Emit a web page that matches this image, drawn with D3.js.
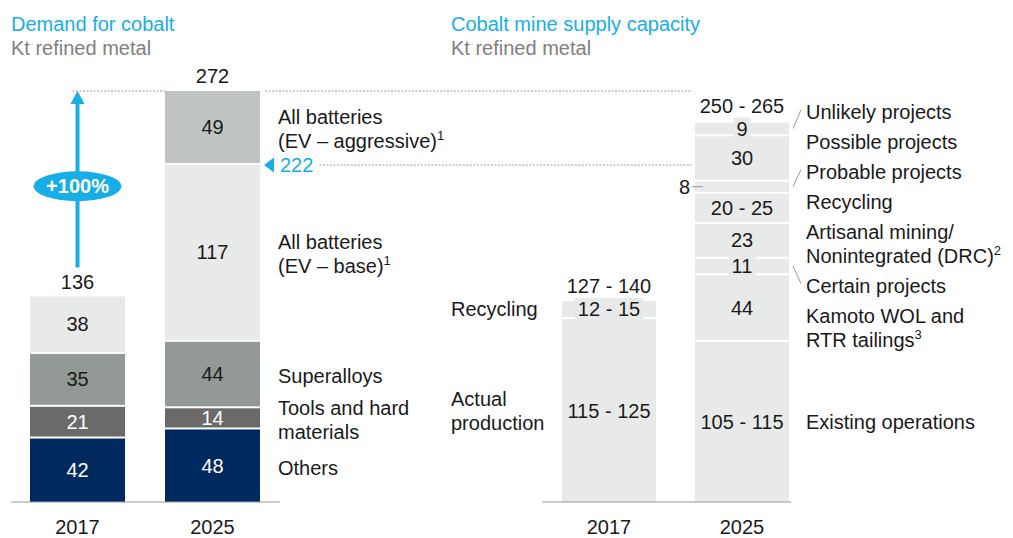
<!DOCTYPE html>
<html>
<head>
<meta charset="utf-8">
<script src="https://cdn.jsdelivr.net/npm/d3@7"></script>
<style>
  body { margin: 0; background: #fff; }
  text { font-family: "Liberation Sans", Arial, sans-serif; font-size: 20px; fill: #1a1a1a; }
</style>
</head>
<body>
<svg id="chart" width="1013" height="538"></svg>
<script>
// ---- data ----
const years = ["2017", "2025"];

// demand, bottom to top
const demandCats = ["Others", "Tools and hard\nmaterials", "Superalloys", "All batteries\n(EV – base)", "All batteries\n(EV – aggressive)"];
const demandNotes = ["", "", "", "1", "1"];
const demand2017 = [42, 21, 35, 38, 0];
const demand2025 = [48, 14, 44, 117, 49];
const demandTotals = ["136", "272"];
const demandBase = 222;
const demandGrowth = "+100%";

// supply capacity, bottom to top
const supplyCats2017 = ["Actual\nproduction", "Recycling"];
const supply2017 = [121, 12];
const supplyLabels2017 = ["115 - 125", "12 - 15"];
const supplyTotal2017 = "127 - 140";

const supplyCats2025 = ["Existing operations", "Kamoto WOL and\nRTR tailings", "Certain projects", "Artisanal mining/\nNonintegrated (DRC)", "Recycling", "Probable projects", "Possible projects", "Unlikely projects"];
const supplyNotes2025 = ["", "3", "", "2", "", "", "", ""];
const supply2025 = [106, 44, 11, 23, 20, 8, 30, 9];
const supplyLabels2025 = ["105 - 115", "44", "11", "23", "20 - 25", "8", "30", "9"];
const supplyTotal2025 = "250 - 265";

// ---- styles ----
const BLUE = "#17aee8";
const demandFills = ["#002960", "#6a6a6a", "#939994", "#e8e9e9", "#bfc4c2"];
const demandInk = ["#fff", "#fff", "#1a1a1a", "#1a1a1a", "#1a1a1a"];
const supplyFill = "#e8e9e9";
const GAP = 2;

const svg = d3.select("#chart");

const y = d3.scaleLinear().domain([0, 272]).range([502, 91]);
const xL = d3.scaleBand().domain(years).range([30, 260]).paddingInner(40 / 135);
const xR = d3.scaleBand().domain(years).range([562, 789]).paddingInner(39 / 133);

// multi-line label centred on cy, with optional superscript note
function label(g, str, note, x, cy, anchor, color) {
    const lines = str.split("\n");
    const t = g.append("text")
        .attr("text-anchor", anchor || "start")
        .style("fill", color || "#1a1a1a");
    const first = cy - (lines.length - 1) * 12 + 7;
    lines.forEach((ln, i) => {
        t.append("tspan").attr("x", x).attr("y", first + i * 24).text(ln);
    });
    if (note) {
        t.append("tspan").attr("dy", -8).style("font-size", "13px").text(note);
    }
    return t;
}

// stacked bar: returns segment centres
function stackBar(g, x0, w, values, fills, texts, inks, opts) {
    opts = opts || {};
    const ends = d3.cumsum(values);
    const centres = [];
    values.forEach((v, i) => {
        const top = y(ends[i]);
        const bot = y(ends[i] - v) - (i > 0 ? GAP : 0);
        centres.push((top + bot) / 2);
        if (!v) return;
        g.append("rect")
            .attr("x", x0).attr("y", top)
            .attr("width", w).attr("height", bot - top)
            .attr("fill", fills[i]);
    });
    values.forEach((v, i) => {
        if (!v || !texts[i]) return;
        const cy = centres[i];
        if (opts.outside && opts.outside(v)) {
            label(g, texts[i], "", x0 - 5, cy, "end");
            g.append("line")
                .attr("x1", x0 - 3).attr("x2", x0 + 8)
                .attr("y1", cy).attr("y2", cy)
                .attr("stroke", "#999").attr("stroke-width", 1);
            return;
        }
        const t = label(g, texts[i], "", x0 + w / 2, cy, "middle", inks[i]);
        const segH = y(ends[i] - v) - y(ends[i]) - GAP;
        if (opts.boxes && segH < 20) {
            const tw = t.node().getComputedTextLength();
            g.insert("rect", () => t.node())
                .attr("x", x0 + w / 2 - tw / 2 - 3).attr("width", tw + 6)
                .attr("y", cy - 11).attr("height", 22)
                .attr("fill", fills[i]);
        }
    });
    return centres;
}

// ---------- LEFT: demand ----------
const gL = svg.append("g");
label(gL, "Demand for cobalt", "", 11, 24, "start", BLUE);
label(gL, "Kt refined metal", "", 11, 48, "start", "#808080");

const bw = xL.bandwidth();
stackBar(gL, xL("2017"), bw, demand2017, demandFills,
    demand2017.map(String), demandInk);
const c25 = stackBar(gL, xL("2025"), bw, demand2025, demandFills,
    demand2025.map(String), demandInk);

// totals
[demand2017, demand2025].forEach((arr, i) => {
    label(gL, demandTotals[i], "", xL(years[i]) + bw / 2, y(d3.sum(arr)) - 15, "middle");
});

// category labels right of 2025 bar
demandCats.forEach((c, i) => {
    label(gL, c, demandNotes[i], xL("2025") + bw + 18, c25[i] + 2, "start");
});

// dotted reference lines
const topY = y(d3.sum(demand2025));
const ax = xL("2017") + bw / 2;
const dash = "2,1.5";
gL.append("line").attr("x1", ax - 5).attr("x2", xL("2025"))
    .attr("y1", topY).attr("y2", topY)
    .attr("stroke", "#999").attr("stroke-dasharray", dash);
gL.append("line").attr("x1", xL("2025") + bw + 5).attr("x2", xR("2025") - 3)
    .attr("y1", topY).attr("y2", topY)
    .attr("stroke", "#999").attr("stroke-dasharray", dash);

// 222 marker
const baseY = y(demandBase) - 1.5;
const mx = xL("2025") + bw + 4;
gL.append("path")
    .attr("d", `M${mx},${baseY} L${mx + 10},${baseY - 7.5} L${mx + 10},${baseY + 7.5} Z`)
    .attr("fill", BLUE);
const bt = label(gL, String(demandBase), "", mx + 16, baseY, "start", BLUE);
const btw = bt.node().getComputedTextLength();
gL.append("line").attr("x1", mx + 16 + btw + 6).attr("x2", xR("2025") - 3)
    .attr("y1", baseY).attr("y2", baseY)
    .attr("stroke", "#999").attr("stroke-dasharray", dash);

// growth arrow
const arrowBot = y(d3.sum(demand2017)) - 29;
gL.append("line").attr("x1", ax).attr("x2", ax)
    .attr("y1", arrowBot).attr("y2", topY + 10)
    .attr("stroke", BLUE).attr("stroke-width", 4);
gL.append("path")
    .attr("d", `M${ax},${topY} L${ax - 7},${topY + 13} L${ax + 7},${topY + 13} Z`)
    .attr("fill", BLUE);
const ey = (topY + y(d3.sum(demand2017)) - 15) / 2;
gL.append("ellipse").attr("cx", ax).attr("cy", ey).attr("rx", 44).attr("ry", 15)
    .attr("fill", BLUE);
label(gL, demandGrowth, "", ax, ey, "middle", "#fff").style("font-weight", "bold");

// axis
gL.append("line").attr("x1", 11).attr("x2", 280).attr("y1", 502).attr("y2", 502)
    .attr("stroke", "#999");
gL.append("g").attr("transform", "translate(0,502)")
    .call(d3.axisBottom(xL).tickSize(0).tickPadding(18))
    .call(a => a.select(".domain").remove())
    .call(a => a.selectAll("text").style("font-size", "20px").style("font-family", "Liberation Sans, Arial, sans-serif").attr("fill", "#1a1a1a"));

// ---------- RIGHT: supply ----------
const gR = svg.append("g");
label(gR, "Cobalt mine supply capacity", "", 451, 24, "start", BLUE);
label(gR, "Kt refined metal", "", 451, 48, "start", "#808080");

const rw = xR.bandwidth();
const s17 = stackBar(gR, xR("2017"), rw, supply2017, supply2017.map(() => supplyFill),
    supplyLabels2017, supply2017.map(() => "#1a1a1a"), { boxes: true });
const s25 = stackBar(gR, xR("2025"), rw, supply2025, supply2025.map(() => supplyFill),
    supplyLabels2025, supply2025.map(() => "#1a1a1a"), { boxes: true, outside: v => v <= 8 });

label(gR, supplyTotal2017, "", xR("2017") + rw / 2, y(d3.sum(supply2017)) - 15, "middle");
label(gR, supplyTotal2025, "", xR("2025") + rw / 2, y(d3.sum(supply2025)) - 17, "middle");

supplyCats2017.forEach((c, i) => {
    label(gR, c, "", 451, s17[i], "start");
});

// 2025 labels stacked downwards from the top, bottom one on its segment
const lx = xR("2025") + rw + 17;
let cur = y(d3.sum(supply2025)) - 11;
for (let i = supply2025.length - 1; i >= 1; i--) {
    const n = supplyCats2025[i].split("\n").length;
    const cy = cur + (n - 1) * 12;
    label(gR, supplyCats2025[i], supplyNotes2025[i], lx, cy, "start");
    if (supply2025[i] < 12) {
        gR.append("line")
            .attr("x1", lx - 13).attr("y1", s25[i])
            .attr("x2", lx - 5).attr("y2", cur - 2)
            .attr("stroke", "#999").attr("stroke-width", 1);
    }
    cur += n * 24 + 6;
}
label(gR, supplyCats2025[0], supplyNotes2025[0], lx, s25[0], "start");

gR.append("line").attr("x1", 542).attr("x2", 791).attr("y1", 502).attr("y2", 502)
    .attr("stroke", "#999");
gR.append("g").attr("transform", "translate(0,502)")
    .call(d3.axisBottom(xR).tickSize(0).tickPadding(18))
    .call(a => a.select(".domain").remove())
    .call(a => a.selectAll("text").style("font-size", "20px").style("font-family", "Liberation Sans, Arial, sans-serif").attr("fill", "#1a1a1a"));
</script>
</body>
</html>
